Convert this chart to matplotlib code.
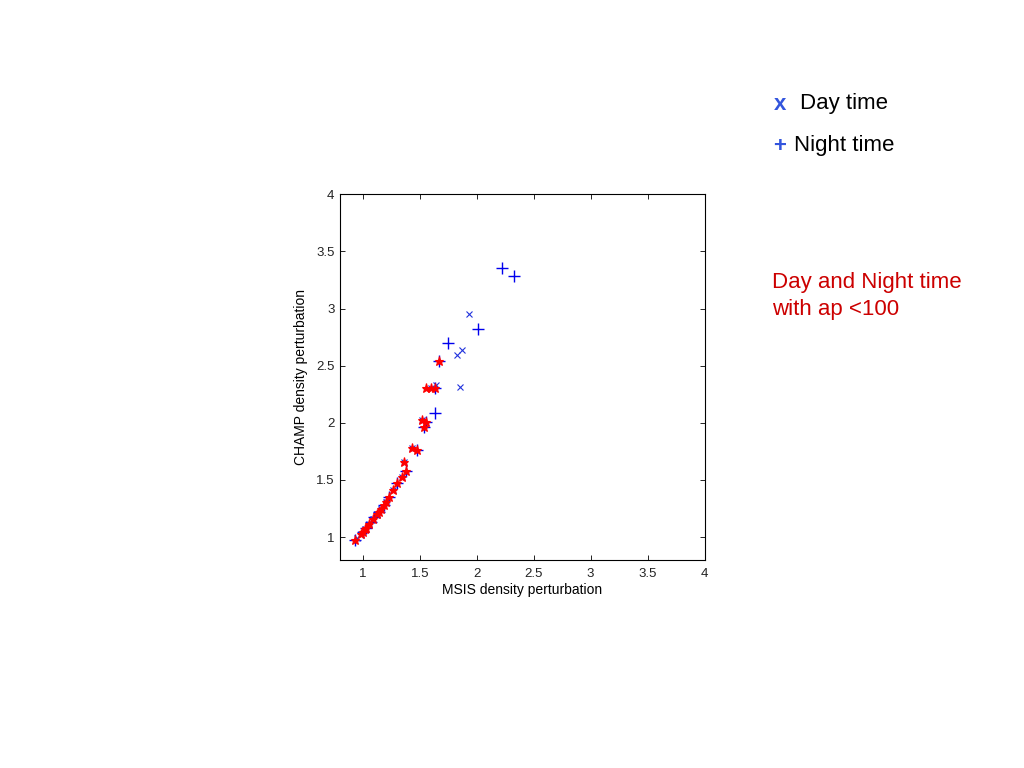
import matplotlib
matplotlib.use("Agg")
import matplotlib.pyplot as plt

# Day time (x markers)
day_x = [1.935, 1.868, 1.830, 1.850, 1.644, 1.603, 1.522, 1.428, 1.365, 1.347,
         1.265, 1.201, 1.163, 1.122, 1.090, 1.055, 1.017, 0.983, 0.950]
day_y = [2.950, 2.635, 2.596, 2.314, 2.328, 2.302, 2.027, 1.782, 1.659, 1.528,
         1.409, 1.309, 1.243, 1.199, 1.160, 1.111, 1.067, 1.029, 0.990]

# Night time (+ markers)
night_x = [2.226, 2.329, 2.011, 1.746, 1.670, 1.632, 1.638, 1.559, 1.542, 1.478,
           1.376, 1.303, 1.230, 1.185, 1.140, 1.100, 1.070, 1.030, 1.000, 0.930]
night_y = [3.358, 3.285, 2.819, 2.696, 2.539, 2.083, 2.302, 2.007, 1.966, 1.762,
           1.578, 1.470, 1.350, 1.280, 1.220, 1.175, 1.130, 1.080, 1.040, 0.971]

# ap < 100 (red markers)
red_x = [1.670, 1.559, 1.603, 1.638, 1.522, 1.559, 1.542, 1.428, 1.478, 1.365,
         1.376, 1.347, 1.303, 1.265, 1.230, 1.201, 1.163, 1.122, 1.090, 1.055,
         1.017, 0.983, 0.930, 1.140, 1.185, 1.000, 1.030]
red_y = [2.539, 2.302, 2.302, 2.302, 2.027, 2.007, 1.966, 1.782, 1.762, 1.659,
         1.578, 1.528, 1.470, 1.409, 1.350, 1.309, 1.243, 1.199, 1.160, 1.111,
         1.067, 1.029, 0.971, 1.220, 1.280, 1.040, 1.080]

ticks = [1, 1.5, 2, 2.5, 3, 3.5, 4]
tick_labels = ["1", "1.5", "2", "2.5", "3", "3.5", "4"]

plt.rcParams['font.family'] = ['Liberation Sans', 'DejaVu Sans']

fig = plt.figure(figsize=(10.24, 7.68), dpi=100)
ax = fig.add_axes([0.332, 0.271, 0.356, 0.476])

ax.plot(night_x, night_y, linestyle='none', marker='+', color='#0000ee',
        markersize=8, markeredgewidth=1.0)
ax.plot(day_x, day_y, linestyle='none', marker='x', color='#2233dd',
        markersize=4.5, markeredgewidth=0.8)
ax.plot(red_x, red_y, linestyle='none', marker='*', color='#ff0000',
        markersize=6.5, markeredgewidth=0.8)

ax.set_xlim(0.8, 4)
ax.set_ylim(0.8, 4)
ax.set_xticks(ticks)
ax.set_xticklabels(tick_labels)
ax.set_yticks(ticks)
ax.set_yticklabels(tick_labels)
ax.tick_params(direction='in', top=True, right=True, labelsize=9.5,
               length=3.5, width=0.6, pad=4, labelcolor='#222222')
ax.tick_params(axis='x', pad=6)
for s in ax.spines.values():
    s.set_linewidth(0.8)
ax.set_xlabel("MSIS density perturbation", fontsize=10, labelpad=2)
ax.set_ylabel("CHAMP density perturbation", fontsize=10, labelpad=6)

# legend-like annotations
fig.text(780 / 1024, 1 - 105 / 768, "x", color='#3355dd', fontsize=16,
         fontweight='bold', ha='center', va='center')
fig.text(800 / 1024, 1 - 104 / 768, "Day time", color='black', fontsize=16,
         ha='left', va='center')
fig.text(780 / 1024, 1 - 147 / 768, "+", color='#3355dd', fontsize=16,
         fontweight='bold', ha='center', va='center')
fig.text(794 / 1024, 1 - 145 / 768, "Night time", color='black', fontsize=16,
         ha='left', va='center')
fig.text(772 / 1024, 1 - 283 / 768, "Day and Night time", color='#cc0000',
         fontsize=16, ha='left', va='center')
fig.text(772 / 1024, 1 - 310 / 768, "with ap <100", color='#cc0000',
         fontsize=16, ha='left', va='center')

fig.savefig("out.png", dpi=100)
